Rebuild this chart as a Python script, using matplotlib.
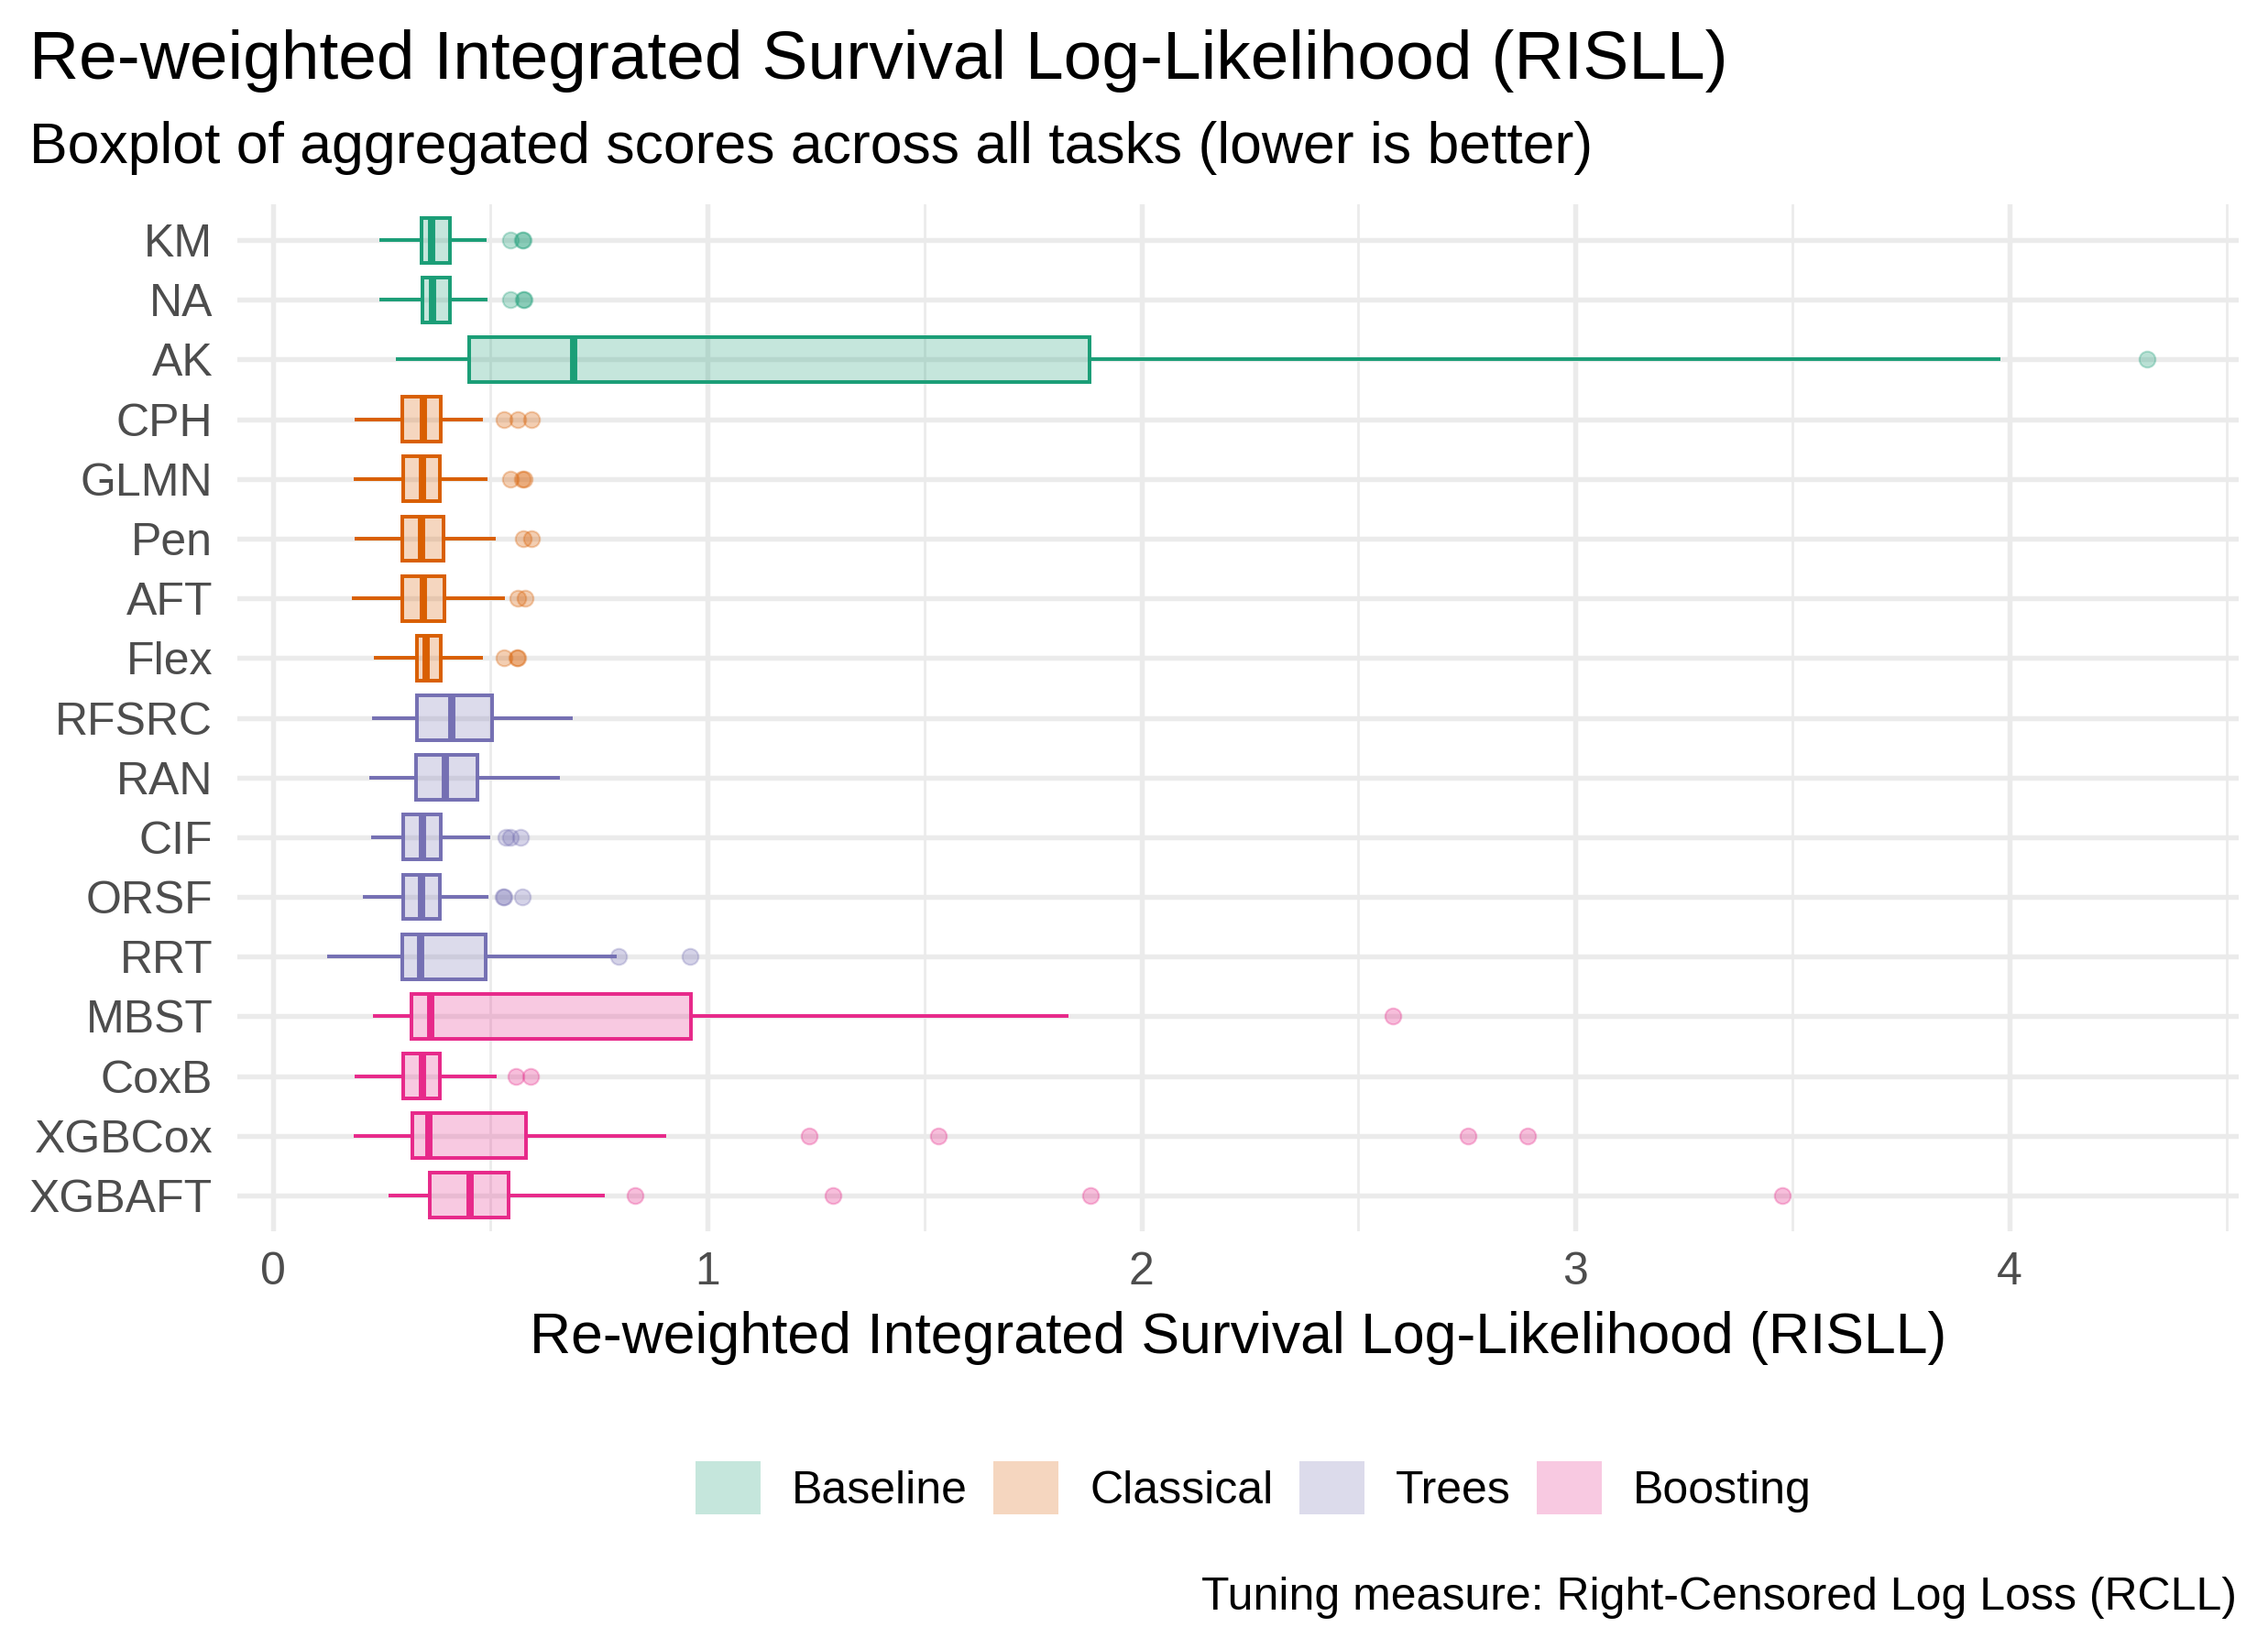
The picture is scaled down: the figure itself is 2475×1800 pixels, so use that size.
import numpy as np
from matplotlib import pyplot as plt
from matplotlib.patches import Patch
from matplotlib.ticker import MultipleLocator
from matplotlib.colors import to_rgba

plt.rcParams["font.family"] = ["Liberation Sans", "DejaVu Sans"]

# learners, top to bottom
learners = ["KM", "NA", "AK", "CPH", "GLMN", "Pen", "AFT", "Flex",
            "RFSRC", "RAN", "CIF", "ORSF", "RRT", "MBST", "CoxB", "XGBCox", "XGBAFT"]
groups = ["Baseline"] * 3 + ["Classical"] * 5 + ["Trees"] * 5 + ["Boosting"] * 4

# box statistics
whis_lo = [0.249, 0.249, 0.288, 0.193, 0.190, 0.193, 0.186, 0.236,
           0.232, 0.226, 0.231, 0.212, 0.129, 0.235, 0.193, 0.190, 0.271]
q1 = [0.343, 0.344, 0.452, 0.297, 0.301, 0.297, 0.298, 0.331,
      0.332, 0.329, 0.301, 0.299, 0.297, 0.320, 0.301, 0.322, 0.362]
med = [0.366, 0.368, 0.692, 0.347, 0.344, 0.342, 0.347, 0.352,
       0.412, 0.397, 0.345, 0.342, 0.340, 0.364, 0.344, 0.359, 0.453]
q3 = [0.407, 0.408, 1.880, 0.387, 0.384, 0.392, 0.394, 0.387,
      0.504, 0.471, 0.387, 0.385, 0.490, 0.962, 0.385, 0.583, 0.543]
whis_hi = [0.488, 0.489, 3.975, 0.480, 0.489, 0.508, 0.529, 0.480,
           0.686, 0.656, 0.496, 0.492, 0.788, 1.828, 0.511, 0.902, 0.760]
outliers = [
    [0.547, 0.575, 0.577],
    [0.547, 0.576, 0.578],
    [4.315],
    [0.533, 0.563, 0.596],
    [0.547, 0.575, 0.578],
    [0.577, 0.595],
    [0.563, 0.581],
    [0.532, 0.562, 0.564],
    [],
    [],
    [0.537, 0.546, 0.570],
    [0.531, 0.533, 0.575],
    [0.795, 0.961],
    [2.579],
    [0.560, 0.593],
    [1.235, 1.533, 2.753, 2.890],
    [0.834, 1.290, 1.882, 3.476],
]

group_names = ["Baseline", "Classical", "Trees", "Boosting"]
group_colors = {"Baseline": "#1B9E77", "Classical": "#D95F02",
                "Trees": "#7570B3", "Boosting": "#E7298A"}

TITLE = "Re-weighted Integrated Survival Log-Likelihood (RISLL)"
SUBTITLE = "Boxplot of aggregated scores across all tasks (lower is better)"
XLABEL = "Re-weighted Integrated Survival Log-Likelihood (RISLL)"
CAPTION = "Tuning measure: Right-Censored Log Loss (RCLL)"

W, H = 2475, 1800
fig = plt.figure(figsize=(W / 300, H / 300), dpi=300)
ax = fig.add_axes([259 / W, 1 - 1344 / H, (2443 - 259) / W, (1344 - 223) / H])

stats = []
for i, name in enumerate(learners):
    stats.append(dict(label=name, whislo=whis_lo[i], q1=q1[i], med=med[i],
                      q3=q3[i], whishi=whis_hi[i], fliers=outliers[i]))

n = len(learners)
pos = np.arange(n, 0, -1)
lw = 0.95
art = ax.bxp(stats, positions=pos, widths=0.75, orientation="horizontal",
             patch_artist=True, showcaps=False,
             boxprops=dict(linewidth=lw),
             whiskerprops=dict(linewidth=lw),
             medianprops=dict(linewidth=2 * lw),
             flierprops=dict(marker="o", markersize=4.2, markeredgewidth=0.5))

for i, g in enumerate(groups):
    c = group_colors[g]
    box = art["boxes"][i]
    box.set_facecolor(to_rgba(c, 0.25))
    box.set_edgecolor(c)
    art["medians"][i].set_color(c)
    art["whiskers"][2 * i].set_color(c)
    art["whiskers"][2 * i + 1].set_color(c)
    fl = art["fliers"][i]
    fl.set_markerfacecolor(to_rgba(c, 0.3))
    fl.set_markeredgecolor(to_rgba(c, 0.3))

ax.set_xlim(-0.082, 4.527)
ax.set_ylim(0.4, n + 0.6)
ax.set_yticks(pos)
ax.set_yticklabels(learners)
ax.xaxis.set_major_locator(MultipleLocator(1))
ax.xaxis.set_minor_locator(MultipleLocator(0.5))
ax.set_axisbelow(True)
ax.grid(which="major", color="#EBEBEB", linewidth=1.3)
ax.grid(which="minor", axis="x", color="#EBEBEB", linewidth=0.65)
for s in ax.spines.values():
    s.set_visible(False)
ax.tick_params(axis="both", which="both", length=0, labelsize=12, labelcolor="#4D4D4D")
ax.tick_params(axis="y", pad=6.4)
ax.tick_params(axis="x", pad=5.2)
ax.set_xlabel(XLABEL, fontsize=15, labelpad=4.7)

fig.text(32 / W, 1 - 86 / H, TITLE, fontsize=18, va="baseline", ha="left")
fig.text(32 / W, 1 - 178 / H, SUBTITLE, fontsize=15, va="baseline", ha="left")
fig.text(2441 / W, 1 - 1757 / H, CAPTION, fontsize=12, va="baseline", ha="right")

handles = [Patch(facecolor=to_rgba(group_colors[g], 0.25), edgecolor="none", label=g)
           for g in group_names]
fig.legend(handles=handles, loc="center", ncol=4, frameon=False, fontsize=12,
           bbox_to_anchor=(1368 / W, 1 - 1624 / H), handlelength=1.42,
           handleheight=1.42, handletextpad=0.68, columnspacing=0.57,
           borderpad=0)

fig.savefig("out.png", dpi=300)
